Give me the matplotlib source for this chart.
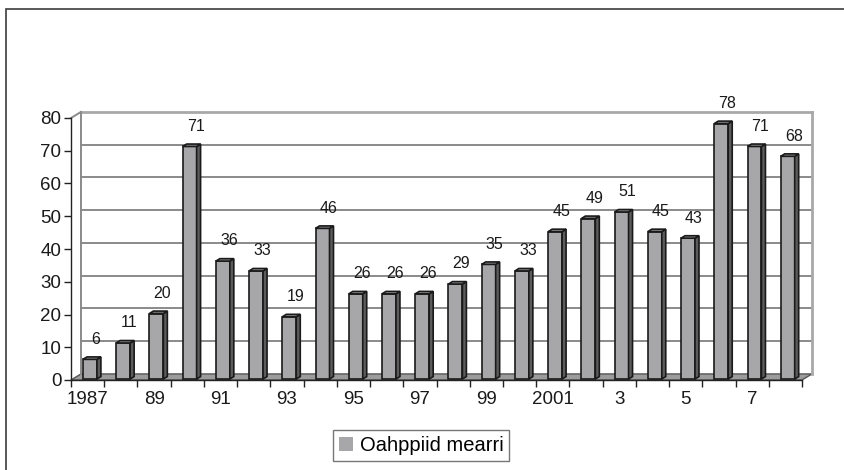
import matplotlib
matplotlib.use("Agg")
import matplotlib.pyplot as plt
from matplotlib.patches import Polygon, Patch, Rectangle

plt.rcParams["font.family"] = ["Liberation Sans", "DejaVu Sans"]

# 数据: 1987 - 2008
years = list(range(1987, 2009))
counts = [6, 11, 20, 71, 36, 33, 19, 46, 26, 26, 26, 29, 35, 33, 45, 49, 51, 45, 43, 78, 71, 68]
tick_labels = ["1987", "89", "91", "93", "95", "97", "99", "2001", "3", "5", "7"]
series_name = "Oahppiid mearri"

n = len(counts)
ymax = 80

# 伪3D效果的偏移 (类别单位, 数值单位)
dx, dy = 0.30, 1.85
bar_x0, bar_w = 0.36, 0.42
bar_dx, bar_dy = 0.12, 0.75
bar_y0 = 0.3

front_col = "#a7a7aa"
side_col = "#5c5c5c"
top_col = "#8e8e8e"
floor_col = "#9c9c9c"
grid_col = "#8a8a8a"
edge_col = "#1a1a1a"

fig = plt.figure(figsize=(8.44, 4.70), dpi=100)
ax = fig.add_axes([71 / 844, (470 - 380) / 470, 731 / 844, 262 / 470])
ax.set_xlim(0, n)
ax.set_ylim(0, ymax)
ax.patch.set_visible(False)

for s in ["top", "right"]:
    ax.spines[s].set_visible(False)
for s in ["left", "bottom"]:
    ax.spines[s].set_color("#222222")
    ax.spines[s].set_linewidth(1.0)
    ax.spines[s].set_zorder(4)

# 坐标轴刻度
ax.set_xticks(range(n + 1))
ax.set_xticklabels([])
ax.set_xticks([i + 0.5 for i in range(0, n, 2)], minor=True)
ax.set_xticklabels(tick_labels, minor=True, fontsize=13.5, color="#1a1a1a")
ax.tick_params(axis="x", which="major", length=5, width=1, color="#222222", direction="out")
ax.tick_params(axis="x", which="minor", length=0, pad=8)
ax.set_yticks(range(0, ymax + 1, 10))
ax.tick_params(axis="y", length=5, width=1, color="#222222", pad=2, labelsize=13.5,
               labelcolor="#1a1a1a")

# 地板
floor = Polygon([(0, 0), (n, 0), (n + dx, dy), (dx, dy)], closed=True,
                facecolor=floor_col, edgecolor="#555555", lw=1.0, clip_on=False, zorder=1)
ax.add_patch(floor)

# 后墙网格线
for v in range(10, ymax + 1, 10):
    ax.plot([dx, n + dx], [v + dy, v + dy], color=grid_col if v < ymax else "#a8a8a8",
            lw=1.4 if v < ymax else 2.0, clip_on=False, zorder=1.5)
ax.plot([dx, dx], [dy, ymax + dy], color=grid_col, lw=1.4, clip_on=False, zorder=1.5)
ax.plot([n + dx, n + dx], [dy, ymax + dy], color="#a8a8a8", lw=2.0, clip_on=False, zorder=1.5)
ax.plot([0, dx], [ymax, ymax + dy], color=grid_col, lw=1.4, clip_on=False, zorder=1.5)

# 柱子
for i, v in enumerate(counts):
    x0 = i + bar_x0
    x1 = x0 + bar_w
    y0 = bar_y0
    y1 = bar_y0 + v
    front = Rectangle((x0, y0), bar_w, v, facecolor=front_col, edgecolor=edge_col,
                      lw=1.2, zorder=3)
    side = Polygon([(x1, y0), (x1 + bar_dx, y0 + bar_dy), (x1 + bar_dx, y1 + bar_dy), (x1, y1)],
                   closed=True, facecolor=side_col, edgecolor=edge_col, lw=1.2, zorder=3)
    top = Polygon([(x0, y1), (x1, y1), (x1 + bar_dx, y1 + bar_dy), (x0 + bar_dx, y1 + bar_dy)],
                  closed=True, facecolor=top_col, edgecolor=edge_col, lw=1.2, zorder=3,
                  clip_on=False)
    ax.add_patch(front)
    ax.add_patch(side)
    ax.add_patch(top)
    ax.annotate(str(v), (i + 0.75, y1), xytext=(0, 14.5), textcoords="offset points",
                ha="center", va="center", fontsize=11.5, color="#1a1a1a",
                annotation_clip=False)

# 图例
leg = fig.legend(handles=[Patch(facecolor=front_col, edgecolor="none", label=series_name)],
                 loc="center", bbox_to_anchor=(421 / 844, (470 - 445.5) / 470),
                 fontsize=14.5, frameon=True, fancybox=False, edgecolor="#555555",
                 handlelength=0.7, handleheight=0.7, handletextpad=0.35, borderpad=0.3)
leg.get_frame().set_linewidth(1.0)

# 外边框
fig.add_artist(Rectangle((6 / 844, -0.05), 1.1, (470 - 9) / 470 + 0.05,
                         transform=fig.transFigure, fill=False, edgecolor="#3c3c3c", lw=1.2))

fig.savefig("out.png", dpi=100)
